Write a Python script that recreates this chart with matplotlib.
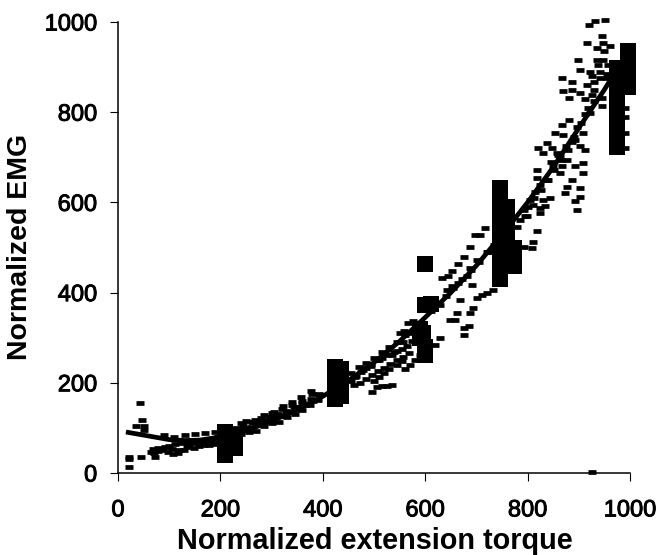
import matplotlib
matplotlib.use("Agg")
import matplotlib.pyplot as plt
import matplotlib.patheffects as pe

plt.rcParams["font.family"] = ["Liberation Sans", "DejaVu Sans"]

# fitted curve
fit_x = [20, 40, 60, 80, 100, 130, 160, 200, 250, 300, 350, 400, 450, 500, 550, 600,
         650, 700, 750, 800, 850, 900, 950, 985]
fit_y = [90, 86, 82, 78, 74, 72, 73, 80, 94, 115, 140, 170, 205, 245, 292, 345,
         400, 460, 528, 600, 678, 765, 850, 915]

# small dashes, low end
low_x = [22, 22, 22, 45, 43, 46, 35, 50, 50, 69, 72, 65,
         78, 88, 98, 108, 118, 128, 138, 148, 158, 168, 178, 188, 198,
         90, 110, 130, 150, 170, 190, 70,
         230, 245, 260, 275, 290, 305, 320, 335, 350, 365, 380, 395,
         225, 240, 255, 270, 285, 300, 315, 330, 345, 360, 375, 390,
         240, 262, 280, 300, 320, 340, 360, 378]
low_y = [36, 30, 14, 36, 156, 117, 104, 104, 96, 53, 36, 47,
         48, 50, 46, 42, 44, 52, 58, 56, 60, 62, 62, 64, 68,
         85, 80, 84, 86, 88, 90, 44,
         100, 106, 102, 110, 118, 124, 126, 136, 146, 150, 160, 172,
         88, 86, 92, 94, 104, 110, 114, 124, 130, 140, 150, 162,
         110, 112, 122, 132, 142, 150, 160, 176]

# small dashes, middle
mid_x = [455, 465, 475, 485, 495, 505, 515, 525, 535, 545, 555, 565, 575,
         460, 472, 484, 496, 508, 520, 532, 544, 556, 568,
         496, 505, 515, 525, 535,
         500, 510, 520, 530, 545, 555,
         560, 570, 580, 590,
         551, 558, 567, 577, 632, 645, 652, 665, 675, 688, 707, 717, 697,
         688, 701, 720, 642, 652, 665, 681, 691,
         629, 619, 675, 675, 658, 649, 662, 688, 694, 685, 668, 701, 711, 720, 733,
         818, 811, 808, 792]
mid_y = [205, 215, 225, 232, 242, 250, 255, 262, 262, 270, 275, 282, 292,
         195, 200, 208, 218, 226, 232, 242, 250, 258, 266,
         180, 190, 192, 194, 196,
         205, 212, 222, 230, 240, 248,
         230, 240, 250, 262,
         310, 314, 332, 336, 432, 436, 447, 463, 480, 502, 528, 543, 528,
         454, 473, 491, 406, 414, 421, 436, 417,
         299, 284, 306, 321, 340, 340, 354, 354, 366, 325, 384, 388, 395, 399, 406,
         536, 513, 499, 502]

# small dashes, high end
high_x = [896, 893, 903, 873, 877, 903, 886, 909, 909, 893, 863, 867, 818, 818, 824, 815,
          844, 834, 824, 798,
          821, 831, 837, 847, 857, 854, 867, 880, 870, 886, 909, 903, 912, 877,
          867, 886, 870, 880, 886, 903, 925, 916, 929, 903, 899, 922, 942, 935, 948, 935,
          948, 961, 945, 916, 919, 932, 951, 945, 945,
          850, 863, 896, 922, 837, 805, 792, 831, 824,
          990, 990, 990, 990, 925]
high_y = [584, 602, 613, 620, 635, 632, 650, 665, 687, 680, 665, 680, 672, 654, 639, 624,
          609, 591, 576, 569,
          720, 709, 731, 720, 709, 754, 772, 783, 750, 735, 754, 724, 717, 694,
          875, 868, 846, 831, 850, 842, 839, 861, 868, 894, 916, 890, 890, 916, 916, 942,
          953, 946, 968, 953, 994, 1003, 1005, 831, 813,
          680, 702, 768, 798, 650, 606, 584, 606, 587,
          809, 789, 754, 720, 2]

# extra dashes where the cloud runs together along the curve
band_x = [100, 112, 124, 136, 148, 160, 172, 184, 196,
          215, 232, 248, 264, 280, 296, 312, 328, 344, 360, 376, 392,
          455, 470, 485, 500, 515, 530, 545, 560,
          250, 268, 286, 304, 322, 340, 358, 376,
          462, 478, 494, 510,
          540, 556,
          575, 590, 612, 628, 640, 655, 672, 690, 705, 722, 735,
          78, 92, 106, 120, 134, 150, 166, 182,
          785, 800, 812, 826, 840, 852, 866, 878, 892, 905, 918, 930,
          780, 795, 810, 845, 860, 875, 890, 912, 930, 942, 955,
          912, 925, 938, 950, 958, 955]
band_y = [60, 64, 66, 66, 70, 72, 74, 76, 80,
          92, 96, 100, 112, 116, 124, 130, 138, 146, 156, 164, 176,
          222, 236, 244, 256, 268, 280, 290, 305,
          116, 118, 128, 136, 148, 158, 168, 182,
          212, 228, 238, 250,
          268, 290,
          310, 330, 360, 372, 392, 410, 430, 450, 468, 490, 505,
          56, 58, 54, 52, 60, 66, 68, 70,
          560, 590, 610, 628, 650, 672, 695, 716, 738, 775, 810, 825,
          545, 570, 595, 690, 705, 725, 745, 795, 850, 875, 885,
          830, 880, 905, 935, 905, 875]

# big squares, the five torque levels
block_x = [209, 209, 209, 209, 209, 228, 228, 228, 228,
           424, 424, 424, 424, 424, 436, 436, 436, 436,
           600, 600, 612, 590, 590, 596, 600, 600,
           746, 746, 746, 746, 746, 746, 746, 746, 746, 746, 746,
           760, 760, 760, 760, 760, 760, 760, 773, 773, 773,
           975, 975, 975, 975, 975, 975, 975, 975, 975,
           996, 996, 996, 996, 996]
block_y = [40, 50, 60, 70, 90, 55, 65, 75, 85,
           165, 185, 200, 215, 235, 170, 190, 210, 230,
           463, 373, 375, 320, 300, 310, 280, 262,
           632, 610, 590, 570, 550, 530, 510, 490, 470, 450, 430,
           590, 570, 550, 530, 510, 490, 470, 500, 480, 460,
           723, 745, 765, 785, 805, 825, 850, 875, 897,
           935, 915, 895, 875, 855]

x_ticks = [0, 200, 400, 600, 800, 1000]
y_ticks = [0, 200, 400, 600, 800, 1000]

fig = plt.figure(figsize=(6.6, 5.55), dpi=100)
ax = fig.add_axes([118 / 660, 82 / 555, 512 / 660, 451 / 555])

ax.plot(block_x, block_y, ls="none", marker="s", ms=11.5, mew=0, color="black", clip_on=False)
for xs, ys in [(low_x, low_y), (mid_x, mid_y), (high_x, high_y), (band_x, band_y)]:
    ax.plot(xs, ys, ls="none", marker="_", ms=5.5, mew=3.4, color="black", clip_on=False)
ax.plot(fit_x, fit_y, color="black", lw=3.4, clip_on=False)

ax.set_xlim(0, 1000)
ax.set_ylim(0, 1000)
ax.set_xticks(x_ticks)
ax.set_yticks(y_ticks)
ax.spines["top"].set_visible(False)
ax.spines["right"].set_visible(False)
ax.spines["left"].set_linewidth(1.1)
ax.spines["bottom"].set_linewidth(1.1)
ax.tick_params(length=6, width=0.8, labelsize=17)
ax.tick_params(axis="x", pad=13)
ax.tick_params(axis="y", pad=9)
for lab in ax.get_xticklabels() + ax.get_yticklabels():
    lab.set_path_effects([pe.withStroke(linewidth=0.7, foreground="black")])

fig.text(375 / 660, 1 - 541 / 555, "Normalized extension torque", ha="center", va="center",
         fontsize=20.8, fontweight="bold")
fig.text(20 / 660, 1 - 247 / 555, "Normalized EMG", ha="center", va="center",
         rotation=90, fontsize=20.5, fontweight="bold")

fig.savefig("out.png", dpi=100)
